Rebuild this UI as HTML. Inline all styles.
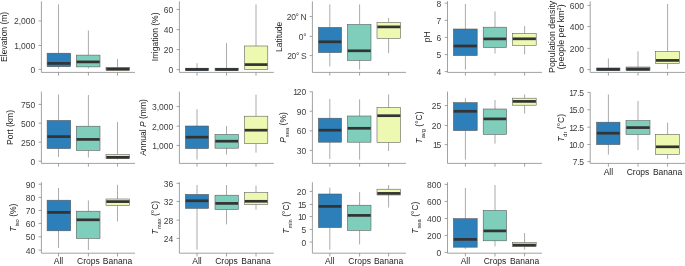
<!DOCTYPE html>
<html><head><meta charset="utf-8"><style>
html,body{margin:0;padding:0;background:#fff;}
svg{display:block;will-change:transform;}
text{font-family:"Liberation Sans",sans-serif;font-size:8.5px;fill:#242424;}
.sub{font-size:5.8px;}
.t{fill:#3c3c3c;}
.sup{font-size:5.6px;}
.a{stroke:#8a8a8a;stroke-width:0.8;fill:none;}
.w{stroke:#8f8f8f;stroke-width:0.75;}
.b{stroke:#555555;stroke-width:0.55;}
.m{stroke:#333333;stroke-width:2.7;}
</style></head><body>
<svg width="685" height="266" viewBox="0 0 685 266">
<line x1="58.5" y1="4.3" x2="58.5" y2="53.2" class="w"/>
<line x1="58.5" y1="66.7" x2="58.5" y2="68.5" class="w"/>
<rect x="47.1" y="53.2" width="23.6" height="13.5" fill="#2c7fb8" class="b"/>
<line x1="47.4" y1="63.4" x2="70.4" y2="63.4" class="m"/>
<line x1="88.4" y1="30.5" x2="88.4" y2="55.1" class="w"/>
<line x1="88.4" y1="66.9" x2="88.4" y2="68.5" class="w"/>
<rect x="76.3" y="55.1" width="23.7" height="11.8" fill="#7fcdbb" class="b"/>
<line x1="76.6" y1="61.9" x2="99.7" y2="61.9" class="m"/>
<line x1="117.5" y1="59" x2="117.5" y2="67.6" class="w"/>
<line x1="117.5" y1="70.4" x2="117.5" y2="70.6" class="w"/>
<rect x="106" y="67.6" width="23.7" height="2.8" fill="#edf8b1" class="b"/>
<line x1="106.3" y1="69" x2="129.4" y2="69" class="m"/>
<path d="M41.4 1.3V72.4H135" class="a"/>
<line x1="38.6" y1="20.9" x2="41.4" y2="20.9" class="a"/>
<text x="35.2" y="24.4" text-anchor="end" class="t">2,000</text>
<line x1="38.6" y1="45.5" x2="41.4" y2="45.5" class="a"/>
<text x="35.2" y="49" text-anchor="end" class="t">1<tspan dx="-0.4">,</tspan>000</text>
<line x1="38.6" y1="69.4" x2="41.4" y2="69.4" class="a"/>
<text x="35.2" y="72.9" text-anchor="end" class="t">0</text>
<line x1="58.5" y1="72.4" x2="58.5" y2="75.6" class="a"/>
<line x1="88.4" y1="72.4" x2="88.4" y2="75.6" class="a"/>
<line x1="117.5" y1="72.4" x2="117.5" y2="75.6" class="a"/>
<text transform="translate(6.6 36.85) rotate(-90)" text-anchor="middle">Elevation (m)</text>
<line x1="197" y1="63.2" x2="197" y2="68.2" class="w"/>
<line x1="197" y1="70.6" x2="197" y2="70.6" class="w"/>
<rect x="185.4" y="68.2" width="23.2" height="2.4" fill="#2c7fb8" class="b"/>
<line x1="185.7" y1="69.4" x2="208.3" y2="69.4" class="m"/>
<line x1="226.5" y1="43.2" x2="226.5" y2="68.2" class="w"/>
<line x1="226.5" y1="70.6" x2="226.5" y2="70.6" class="w"/>
<rect x="215" y="68.2" width="23.4" height="2.4" fill="#7fcdbb" class="b"/>
<line x1="215.3" y1="69.4" x2="238.1" y2="69.4" class="m"/>
<line x1="256" y1="4.4" x2="256" y2="46" class="w"/>
<line x1="256" y1="69.6" x2="256" y2="70" class="w"/>
<rect x="244.4" y="46" width="23.4" height="23.6" fill="#edf8b1" class="b"/>
<line x1="244.7" y1="64.6" x2="267.5" y2="64.6" class="m"/>
<path d="M179.4 1.3V72.4H273.8" class="a"/>
<line x1="176.6" y1="9.4" x2="179.4" y2="9.4" class="a"/>
<text x="173.2" y="12.9" text-anchor="end" class="t">60</text>
<line x1="176.6" y1="29.6" x2="179.4" y2="29.6" class="a"/>
<text x="173.2" y="33.1" text-anchor="end" class="t">40</text>
<line x1="176.6" y1="49.6" x2="179.4" y2="49.6" class="a"/>
<text x="173.2" y="53.1" text-anchor="end" class="t">20</text>
<line x1="176.6" y1="69.6" x2="179.4" y2="69.6" class="a"/>
<text x="173.2" y="73.1" text-anchor="end" class="t">0</text>
<line x1="197" y1="72.4" x2="197" y2="75.6" class="a"/>
<line x1="226.5" y1="72.4" x2="226.5" y2="75.6" class="a"/>
<line x1="256" y1="72.4" x2="256" y2="75.6" class="a"/>
<text transform="translate(157.5 36.85) rotate(-90)" text-anchor="middle">Irrigation (%)</text>
<line x1="329.8" y1="4.4" x2="329.8" y2="27.4" class="w"/>
<line x1="329.8" y1="52.6" x2="329.8" y2="66.4" class="w"/>
<rect x="318.4" y="27.4" width="23.2" height="25.2" fill="#2c7fb8" class="b"/>
<line x1="318.7" y1="41.8" x2="341.3" y2="41.8" class="m"/>
<line x1="359.6" y1="4.4" x2="359.6" y2="24.4" class="w"/>
<line x1="359.6" y1="60.4" x2="359.6" y2="69.6" class="w"/>
<rect x="347.4" y="24.4" width="23.6" height="36" fill="#7fcdbb" class="b"/>
<line x1="347.7" y1="50.8" x2="370.7" y2="50.8" class="m"/>
<line x1="388.6" y1="18" x2="388.6" y2="22.4" class="w"/>
<line x1="388.6" y1="38.4" x2="388.6" y2="53.2" class="w"/>
<rect x="377" y="22.4" width="23.6" height="16" fill="#edf8b1" class="b"/>
<line x1="377.3" y1="26.9" x2="400.3" y2="26.9" class="m"/>
<path d="M312.4 1.3V72.4H406" class="a"/>
<line x1="309.6" y1="16.6" x2="312.4" y2="16.6" class="a"/>
<text x="306.2" y="20.1" text-anchor="end" class="t" letter-spacing="-0.4">20° N</text>
<line x1="309.6" y1="36.4" x2="312.4" y2="36.4" class="a"/>
<text x="306.2" y="39.9" text-anchor="end" class="t" letter-spacing="-0.4">0°</text>
<line x1="309.6" y1="55.6" x2="312.4" y2="55.6" class="a"/>
<text x="306.2" y="59.1" text-anchor="end" class="t" letter-spacing="-0.4">20° S</text>
<line x1="329.8" y1="72.4" x2="329.8" y2="75.6" class="a"/>
<line x1="359.6" y1="72.4" x2="359.6" y2="75.6" class="a"/>
<line x1="388.6" y1="72.4" x2="388.6" y2="75.6" class="a"/>
<text transform="translate(282.3 36.85) rotate(-90)" text-anchor="middle">Latitude</text>
<line x1="465.4" y1="4" x2="465.4" y2="29" class="w"/>
<line x1="465.4" y1="55.6" x2="465.4" y2="69.6" class="w"/>
<rect x="453.4" y="29" width="23.8" height="26.6" fill="#2c7fb8" class="b"/>
<line x1="453.7" y1="46" x2="476.9" y2="46" class="m"/>
<line x1="495" y1="11.4" x2="495" y2="27.2" class="w"/>
<line x1="495" y1="47.6" x2="495" y2="53.6" class="w"/>
<rect x="483.2" y="27.2" width="23.4" height="20.4" fill="#7fcdbb" class="b"/>
<line x1="483.5" y1="38.9" x2="506.3" y2="38.9" class="m"/>
<line x1="524.6" y1="26" x2="524.6" y2="33.4" class="w"/>
<line x1="524.6" y1="45.5" x2="524.6" y2="54.4" class="w"/>
<rect x="512.4" y="33.4" width="23.8" height="12.1" fill="#edf8b1" class="b"/>
<line x1="512.7" y1="38.8" x2="535.9" y2="38.8" class="m"/>
<path d="M447.5 1.2V72.4H542" class="a"/>
<line x1="444.7" y1="3.2" x2="447.5" y2="3.2" class="a"/>
<text x="441.3" y="6.7" text-anchor="end" class="t">8</text>
<line x1="444.7" y1="20.4" x2="447.5" y2="20.4" class="a"/>
<text x="441.3" y="23.9" text-anchor="end" class="t">7</text>
<line x1="444.7" y1="37.4" x2="447.5" y2="37.4" class="a"/>
<text x="441.3" y="40.9" text-anchor="end" class="t">6</text>
<line x1="444.7" y1="54.6" x2="447.5" y2="54.6" class="a"/>
<text x="441.3" y="58.1" text-anchor="end" class="t">5</text>
<line x1="444.7" y1="71.6" x2="447.5" y2="71.6" class="a"/>
<text x="441.3" y="75.1" text-anchor="end" class="t">4</text>
<line x1="465.4" y1="72.4" x2="465.4" y2="75.6" class="a"/>
<line x1="495" y1="72.4" x2="495" y2="75.6" class="a"/>
<line x1="524.6" y1="72.4" x2="524.6" y2="75.6" class="a"/>
<text transform="translate(429.5 36.8) rotate(-90)" text-anchor="middle">pH</text>
<line x1="608.4" y1="58.4" x2="608.4" y2="68" class="w"/>
<line x1="608.4" y1="70.6" x2="608.4" y2="70.6" class="w"/>
<rect x="596.6" y="68" width="23.4" height="2.6" fill="#2c7fb8" class="b"/>
<line x1="596.9" y1="69.3" x2="619.7" y2="69.3" class="m"/>
<line x1="638" y1="51.4" x2="638" y2="67" class="w"/>
<line x1="638" y1="70.6" x2="638" y2="70.6" class="w"/>
<rect x="626" y="67" width="24" height="3.6" fill="#7fcdbb" class="b"/>
<line x1="626.3" y1="69.2" x2="649.7" y2="69.2" class="m"/>
<line x1="667.6" y1="4" x2="667.6" y2="51.6" class="w"/>
<line x1="667.6" y1="63.6" x2="667.6" y2="69" class="w"/>
<rect x="655.6" y="51.6" width="23.8" height="12" fill="#edf8b1" class="b"/>
<line x1="655.9" y1="60.4" x2="679.1" y2="60.4" class="m"/>
<path d="M590.2 1.3V72.4H685" class="a"/>
<line x1="587.4" y1="5.4" x2="590.2" y2="5.4" class="a"/>
<text x="584" y="8.9" text-anchor="end" class="t">600</text>
<line x1="587.4" y1="26.6" x2="590.2" y2="26.6" class="a"/>
<text x="584" y="30.1" text-anchor="end" class="t">400</text>
<line x1="587.4" y1="48.4" x2="590.2" y2="48.4" class="a"/>
<text x="584" y="51.9" text-anchor="end" class="t">200</text>
<line x1="587.4" y1="69.6" x2="590.2" y2="69.6" class="a"/>
<text x="584" y="73.1" text-anchor="end" class="t">0</text>
<line x1="608.4" y1="72.4" x2="608.4" y2="75.6" class="a"/>
<line x1="638" y1="72.4" x2="638" y2="75.6" class="a"/>
<line x1="667.6" y1="72.4" x2="667.6" y2="75.6" class="a"/>
<text transform="translate(554.6 36.85) rotate(-90)" text-anchor="middle" style="font-size:8.85px">Population density</text>
<text transform="translate(563.5 36.85) rotate(-90)" text-anchor="middle" style="font-size:8.85px">(people per km<tspan class="sup" dy="-3">2</tspan><tspan dy="3">)</tspan></text>
<line x1="58.5" y1="94.4" x2="58.5" y2="120.4" class="w"/>
<line x1="58.5" y1="148.6" x2="58.5" y2="157.1" class="w"/>
<rect x="47.1" y="120.4" width="23.6" height="28.2" fill="#2c7fb8" class="b"/>
<line x1="47.4" y1="136.6" x2="70.4" y2="136.6" class="m"/>
<line x1="88.4" y1="95" x2="88.4" y2="126.2" class="w"/>
<line x1="88.4" y1="150.4" x2="88.4" y2="157.6" class="w"/>
<rect x="76.3" y="126.2" width="23.7" height="24.2" fill="#7fcdbb" class="b"/>
<line x1="76.6" y1="139.4" x2="99.7" y2="139.4" class="m"/>
<line x1="117.5" y1="122" x2="117.5" y2="154.4" class="w"/>
<line x1="117.5" y1="158.7" x2="117.5" y2="159.4" class="w"/>
<rect x="106" y="154.4" width="23.7" height="4.3" fill="#edf8b1" class="b"/>
<line x1="106.3" y1="157.3" x2="129.4" y2="157.3" class="m"/>
<path d="M41.4 91.6V163.4H135" class="a"/>
<line x1="38.6" y1="104.4" x2="41.4" y2="104.4" class="a"/>
<text x="35.2" y="107.9" text-anchor="end" class="t">750</text>
<line x1="38.6" y1="123.2" x2="41.4" y2="123.2" class="a"/>
<text x="35.2" y="126.7" text-anchor="end" class="t">500</text>
<line x1="38.6" y1="142.2" x2="41.4" y2="142.2" class="a"/>
<text x="35.2" y="145.7" text-anchor="end" class="t">250</text>
<line x1="38.6" y1="161.2" x2="41.4" y2="161.2" class="a"/>
<text x="35.2" y="164.7" text-anchor="end" class="t">0</text>
<line x1="58.5" y1="163.4" x2="58.5" y2="166.6" class="a"/>
<line x1="88.4" y1="163.4" x2="88.4" y2="166.6" class="a"/>
<line x1="117.5" y1="163.4" x2="117.5" y2="166.6" class="a"/>
<text transform="translate(12.7 127.5) rotate(-90)" text-anchor="middle">Port (km)</text>
<line x1="197" y1="109.2" x2="197" y2="126" class="w"/>
<line x1="197" y1="148.6" x2="197" y2="159.6" class="w"/>
<rect x="185.4" y="126" width="23.2" height="22.6" fill="#2c7fb8" class="b"/>
<line x1="185.7" y1="137.2" x2="208.3" y2="137.2" class="m"/>
<line x1="226.5" y1="126" x2="226.5" y2="134.4" class="w"/>
<line x1="226.5" y1="148.2" x2="226.5" y2="154.6" class="w"/>
<rect x="215" y="134.4" width="23.4" height="13.8" fill="#7fcdbb" class="b"/>
<line x1="215.3" y1="141.2" x2="238.1" y2="141.2" class="m"/>
<line x1="256" y1="94.6" x2="256" y2="116.2" class="w"/>
<line x1="256" y1="143.6" x2="256" y2="152.6" class="w"/>
<rect x="244.4" y="116.2" width="23.4" height="27.4" fill="#edf8b1" class="b"/>
<line x1="244.7" y1="130.2" x2="267.5" y2="130.2" class="m"/>
<path d="M179.4 91.6V163.4H273.8" class="a"/>
<line x1="176.6" y1="106.6" x2="179.4" y2="106.6" class="a"/>
<text x="173.2" y="110.1" text-anchor="end" class="t">3,000</text>
<line x1="176.6" y1="126.2" x2="179.4" y2="126.2" class="a"/>
<text x="173.2" y="129.7" text-anchor="end" class="t">2,000</text>
<line x1="176.6" y1="145.4" x2="179.4" y2="145.4" class="a"/>
<text x="173.2" y="148.9" text-anchor="end" class="t">1<tspan dx="-0.4">,</tspan>000</text>
<line x1="197" y1="163.4" x2="197" y2="166.6" class="a"/>
<line x1="226.5" y1="163.4" x2="226.5" y2="166.6" class="a"/>
<line x1="256" y1="163.4" x2="256" y2="166.6" class="a"/>
<text transform="translate(146 127.5) rotate(-90)" text-anchor="middle">Annual <tspan font-style="italic">P</tspan> (mm)</text>
<line x1="329.8" y1="99" x2="329.8" y2="118.2" class="w"/>
<line x1="329.8" y1="142.2" x2="329.8" y2="159" class="w"/>
<rect x="318.4" y="118.2" width="23.2" height="24" fill="#2c7fb8" class="b"/>
<line x1="318.7" y1="130.2" x2="341.3" y2="130.2" class="m"/>
<line x1="359.6" y1="99.4" x2="359.6" y2="116" class="w"/>
<line x1="359.6" y1="142.2" x2="359.6" y2="159.6" class="w"/>
<rect x="347.4" y="116" width="23.6" height="26.2" fill="#7fcdbb" class="b"/>
<line x1="347.7" y1="128.3" x2="370.7" y2="128.3" class="m"/>
<line x1="388.6" y1="94.4" x2="388.6" y2="107.6" class="w"/>
<line x1="388.6" y1="142.4" x2="388.6" y2="151" class="w"/>
<rect x="377" y="107.6" width="23.6" height="34.8" fill="#edf8b1" class="b"/>
<line x1="377.3" y1="115.7" x2="400.3" y2="115.7" class="m"/>
<path d="M312.4 91.6V163.4H406" class="a"/>
<line x1="309.6" y1="91.8" x2="312.4" y2="91.8" class="a"/>
<text x="306.2" y="95.3" text-anchor="end" class="t">1<tspan dx="-1.2">2</tspan>0</text>
<line x1="309.6" y1="111.2" x2="312.4" y2="111.2" class="a"/>
<text x="306.2" y="114.7" text-anchor="end" class="t">90</text>
<line x1="309.6" y1="130.9" x2="312.4" y2="130.9" class="a"/>
<text x="306.2" y="134.4" text-anchor="end" class="t">60</text>
<line x1="309.6" y1="150.4" x2="312.4" y2="150.4" class="a"/>
<text x="306.2" y="153.9" text-anchor="end" class="t">30</text>
<line x1="329.8" y1="163.4" x2="329.8" y2="166.6" class="a"/>
<line x1="359.6" y1="163.4" x2="359.6" y2="166.6" class="a"/>
<line x1="388.6" y1="163.4" x2="388.6" y2="166.6" class="a"/>
<text transform="translate(285.6 127.5) rotate(-90)" text-anchor="middle"><tspan font-style="italic">P</tspan><tspan class="sub" dy="3.4">sea</tspan><tspan dy="-3.4"> (%)</tspan></text>
<line x1="465.4" y1="98.2" x2="465.4" y2="102.6" class="w"/>
<line x1="465.4" y1="130.6" x2="465.4" y2="159.6" class="w"/>
<rect x="453.4" y="102.6" width="23.8" height="28" fill="#2c7fb8" class="b"/>
<line x1="453.7" y1="111.3" x2="476.9" y2="111.3" class="m"/>
<line x1="495" y1="100" x2="495" y2="109" class="w"/>
<line x1="495" y1="134.4" x2="495" y2="143.6" class="w"/>
<rect x="483.2" y="109" width="23.4" height="25.4" fill="#7fcdbb" class="b"/>
<line x1="483.5" y1="118.9" x2="506.3" y2="118.9" class="m"/>
<line x1="524.6" y1="94.4" x2="524.6" y2="98.2" class="w"/>
<line x1="524.6" y1="105.2" x2="524.6" y2="113.6" class="w"/>
<rect x="512.4" y="98.2" width="23.8" height="7" fill="#edf8b1" class="b"/>
<line x1="512.7" y1="101.4" x2="535.9" y2="101.4" class="m"/>
<path d="M447.5 91.6V163.4H542" class="a"/>
<line x1="444.7" y1="105.6" x2="447.5" y2="105.6" class="a"/>
<text x="441.3" y="109.1" text-anchor="end" class="t">25</text>
<line x1="444.7" y1="125.4" x2="447.5" y2="125.4" class="a"/>
<text x="441.3" y="128.9" text-anchor="end" class="t">20</text>
<line x1="444.7" y1="144.6" x2="447.5" y2="144.6" class="a"/>
<text x="441.3" y="148.1" text-anchor="end" class="t">1<tspan dx="-1.2">5</tspan></text>
<line x1="465.4" y1="163.4" x2="465.4" y2="166.6" class="a"/>
<line x1="495" y1="163.4" x2="495" y2="166.6" class="a"/>
<line x1="524.6" y1="163.4" x2="524.6" y2="166.6" class="a"/>
<text transform="translate(421.9 127.5) rotate(-90)" text-anchor="middle"><tspan font-style="italic">T</tspan><tspan class="sub" dy="3.4">avg</tspan><tspan dy="-3.4"> (°C)</tspan></text>
<line x1="608.4" y1="94.4" x2="608.4" y2="122.2" class="w"/>
<line x1="608.4" y1="144.6" x2="608.4" y2="154.6" class="w"/>
<rect x="596.6" y="122.2" width="23.4" height="22.4" fill="#2c7fb8" class="b"/>
<line x1="596.9" y1="133.2" x2="619.7" y2="133.2" class="m"/>
<line x1="638" y1="101" x2="638" y2="120.6" class="w"/>
<line x1="638" y1="134.5" x2="638" y2="150" class="w"/>
<rect x="626" y="120.6" width="24" height="13.9" fill="#7fcdbb" class="b"/>
<line x1="626.3" y1="127.6" x2="649.7" y2="127.6" class="m"/>
<line x1="667.6" y1="122.6" x2="667.6" y2="134.3" class="w"/>
<line x1="667.6" y1="154.4" x2="667.6" y2="159" class="w"/>
<rect x="655.6" y="134.3" width="23.8" height="20.1" fill="#edf8b1" class="b"/>
<line x1="655.9" y1="146.8" x2="679.1" y2="146.8" class="m"/>
<path d="M590.2 92.4V163.4H685" class="a"/>
<line x1="587.4" y1="92.4" x2="590.2" y2="92.4" class="a"/>
<text x="584" y="95.9" text-anchor="end" class="t">1<tspan dx="-1.2">7</tspan>.<tspan dx="-0.7">5</tspan></text>
<line x1="587.4" y1="109.8" x2="590.2" y2="109.8" class="a"/>
<text x="584" y="113.3" text-anchor="end" class="t">1<tspan dx="-1.2">5</tspan>.<tspan dx="-0.7">0</tspan></text>
<line x1="587.4" y1="127.2" x2="590.2" y2="127.2" class="a"/>
<text x="584" y="130.7" text-anchor="end" class="t">1<tspan dx="-1.2">2</tspan>.<tspan dx="-0.7">5</tspan></text>
<line x1="587.4" y1="144.5" x2="590.2" y2="144.5" class="a"/>
<text x="584" y="148" text-anchor="end" class="t">1<tspan dx="-1.2">0</tspan>.<tspan dx="-0.7">0</tspan></text>
<line x1="587.4" y1="161.6" x2="590.2" y2="161.6" class="a"/>
<text x="584" y="165.1" text-anchor="end" class="t">7.<tspan dx="-0.7">5</tspan></text>
<line x1="608.4" y1="163.4" x2="608.4" y2="166.6" class="a"/>
<line x1="638" y1="163.4" x2="638" y2="166.6" class="a"/>
<line x1="667.6" y1="163.4" x2="667.6" y2="166.6" class="a"/>
<text x="608.4" y="174.6" text-anchor="middle">All</text>
<text x="638" y="174.6" text-anchor="middle">Crops</text>
<text x="667.6" y="174.6" text-anchor="middle">Banana</text>
<text transform="translate(563.7 127.9) rotate(-90)" text-anchor="middle"><tspan font-style="italic">T</tspan><tspan class="sub" dy="3.4">dr</tspan><tspan dy="-3.4"> (°C)</tspan></text>
<line x1="58.5" y1="188" x2="58.5" y2="200.2" class="w"/>
<line x1="58.5" y1="230.8" x2="58.5" y2="248" class="w"/>
<rect x="47.1" y="200.2" width="23.6" height="30.6" fill="#2c7fb8" class="b"/>
<line x1="47.4" y1="212.4" x2="70.4" y2="212.4" class="m"/>
<line x1="88.4" y1="200.4" x2="88.4" y2="211.2" class="w"/>
<line x1="88.4" y1="238.4" x2="88.4" y2="250" class="w"/>
<rect x="76.3" y="211.2" width="23.7" height="27.2" fill="#7fcdbb" class="b"/>
<line x1="76.6" y1="219.8" x2="99.7" y2="219.8" class="m"/>
<line x1="117.5" y1="184.8" x2="117.5" y2="199" class="w"/>
<line x1="117.5" y1="205.6" x2="117.5" y2="221.5" class="w"/>
<rect x="106" y="199" width="23.7" height="6.6" fill="#edf8b1" class="b"/>
<line x1="106.3" y1="201.6" x2="129.4" y2="201.6" class="m"/>
<path d="M41.4 182.2V253.2H135" class="a"/>
<line x1="38.6" y1="184.2" x2="41.4" y2="184.2" class="a"/>
<text x="35.2" y="187.7" text-anchor="end" class="t">90</text>
<line x1="38.6" y1="197.4" x2="41.4" y2="197.4" class="a"/>
<text x="35.2" y="200.9" text-anchor="end" class="t">80</text>
<line x1="38.6" y1="210.4" x2="41.4" y2="210.4" class="a"/>
<text x="35.2" y="213.9" text-anchor="end" class="t">70</text>
<line x1="38.6" y1="223.4" x2="41.4" y2="223.4" class="a"/>
<text x="35.2" y="226.9" text-anchor="end" class="t">60</text>
<line x1="38.6" y1="236.8" x2="41.4" y2="236.8" class="a"/>
<text x="35.2" y="240.3" text-anchor="end" class="t">50</text>
<line x1="38.6" y1="250.2" x2="41.4" y2="250.2" class="a"/>
<text x="35.2" y="253.7" text-anchor="end" class="t">40</text>
<line x1="58.5" y1="253.2" x2="58.5" y2="256.4" class="a"/>
<line x1="88.4" y1="253.2" x2="88.4" y2="256.4" class="a"/>
<line x1="117.5" y1="253.2" x2="117.5" y2="256.4" class="a"/>
<text x="58.5" y="264.4" text-anchor="middle">All</text>
<text x="88.4" y="264.4" text-anchor="middle">Crops</text>
<text x="117.5" y="264.4" text-anchor="middle">Banana</text>
<text transform="translate(15.8 217.7) rotate(-90)" text-anchor="middle"><tspan font-style="italic">T</tspan><tspan class="sub" dy="3.4">iso</tspan><tspan dy="-3.4"> (%)</tspan></text>
<line x1="197" y1="185" x2="197" y2="194.4" class="w"/>
<line x1="197" y1="208.4" x2="197" y2="249.6" class="w"/>
<rect x="185.4" y="194.4" width="23.2" height="14" fill="#2c7fb8" class="b"/>
<line x1="185.7" y1="200.8" x2="208.3" y2="200.8" class="m"/>
<line x1="226.5" y1="185" x2="226.5" y2="195.2" class="w"/>
<line x1="226.5" y1="209.6" x2="226.5" y2="224.4" class="w"/>
<rect x="215" y="195.2" width="23.4" height="14.4" fill="#7fcdbb" class="b"/>
<line x1="215.3" y1="203.4" x2="238.1" y2="203.4" class="m"/>
<line x1="256" y1="185.6" x2="256" y2="192.6" class="w"/>
<line x1="256" y1="204.6" x2="256" y2="209.6" class="w"/>
<rect x="244.4" y="192.6" width="23.4" height="12" fill="#edf8b1" class="b"/>
<line x1="244.7" y1="201.3" x2="267.5" y2="201.3" class="m"/>
<path d="M179.4 182.2V253.2H273.8" class="a"/>
<line x1="176.6" y1="183.4" x2="179.4" y2="183.4" class="a"/>
<text x="173.2" y="186.9" text-anchor="end" class="t">36</text>
<line x1="176.6" y1="201.4" x2="179.4" y2="201.4" class="a"/>
<text x="173.2" y="204.9" text-anchor="end" class="t">32</text>
<line x1="176.6" y1="220.2" x2="179.4" y2="220.2" class="a"/>
<text x="173.2" y="223.7" text-anchor="end" class="t">28</text>
<line x1="176.6" y1="238.4" x2="179.4" y2="238.4" class="a"/>
<text x="173.2" y="241.9" text-anchor="end" class="t">24</text>
<line x1="197" y1="253.2" x2="197" y2="256.4" class="a"/>
<line x1="226.5" y1="253.2" x2="226.5" y2="256.4" class="a"/>
<line x1="256" y1="253.2" x2="256" y2="256.4" class="a"/>
<text x="197" y="264.4" text-anchor="middle">All</text>
<text x="226.5" y="264.4" text-anchor="middle">Crops</text>
<text x="256" y="264.4" text-anchor="middle">Banana</text>
<text transform="translate(157.5 217.7) rotate(-90)" text-anchor="middle"><tspan font-style="italic">T</tspan><tspan class="sub" dy="3.4">max</tspan><tspan dy="-3.4"> (°C)</tspan></text>
<line x1="329.8" y1="187.6" x2="329.8" y2="194" class="w"/>
<line x1="329.8" y1="227.6" x2="329.8" y2="249.6" class="w"/>
<rect x="318.4" y="194" width="23.2" height="33.6" fill="#2c7fb8" class="b"/>
<line x1="318.7" y1="206.4" x2="341.3" y2="206.4" class="m"/>
<line x1="359.6" y1="192" x2="359.6" y2="205.2" class="w"/>
<line x1="359.6" y1="230.4" x2="359.6" y2="244.4" class="w"/>
<rect x="347.4" y="205.2" width="23.6" height="25.2" fill="#7fcdbb" class="b"/>
<line x1="347.7" y1="215.4" x2="370.7" y2="215.4" class="m"/>
<line x1="388.6" y1="185" x2="388.6" y2="189.2" class="w"/>
<line x1="388.6" y1="195" x2="388.6" y2="207.6" class="w"/>
<rect x="377" y="189.2" width="23.6" height="5.8" fill="#edf8b1" class="b"/>
<line x1="377.3" y1="193.4" x2="400.3" y2="193.4" class="m"/>
<path d="M312.4 182.2V253.2H406" class="a"/>
<line x1="309.6" y1="191.4" x2="312.4" y2="191.4" class="a"/>
<text x="306.2" y="194.9" text-anchor="end" class="t">20</text>
<line x1="309.6" y1="204.4" x2="312.4" y2="204.4" class="a"/>
<text x="306.2" y="207.9" text-anchor="end" class="t">1<tspan dx="-1.2">5</tspan></text>
<line x1="309.6" y1="216.6" x2="312.4" y2="216.6" class="a"/>
<text x="306.2" y="220.1" text-anchor="end" class="t">1<tspan dx="-1.2">0</tspan></text>
<line x1="309.6" y1="229.4" x2="312.4" y2="229.4" class="a"/>
<text x="306.2" y="232.9" text-anchor="end" class="t">5</text>
<line x1="309.6" y1="242" x2="312.4" y2="242" class="a"/>
<text x="306.2" y="245.5" text-anchor="end" class="t">0</text>
<line x1="329.8" y1="253.2" x2="329.8" y2="256.4" class="a"/>
<line x1="359.6" y1="253.2" x2="359.6" y2="256.4" class="a"/>
<line x1="388.6" y1="253.2" x2="388.6" y2="256.4" class="a"/>
<text x="329.8" y="264.4" text-anchor="middle">All</text>
<text x="359.6" y="264.4" text-anchor="middle">Crops</text>
<text x="388.6" y="264.4" text-anchor="middle">Banana</text>
<text transform="translate(288.5 217.7) rotate(-90)" text-anchor="middle"><tspan font-style="italic">T</tspan><tspan class="sub" dy="3.4">min</tspan><tspan dy="-3.4"> (°C)</tspan></text>
<line x1="465.4" y1="188" x2="465.4" y2="218.6" class="w"/>
<line x1="465.4" y1="247.2" x2="465.4" y2="249" class="w"/>
<rect x="453.4" y="218.6" width="23.8" height="28.6" fill="#2c7fb8" class="b"/>
<line x1="453.7" y1="239.4" x2="476.9" y2="239.4" class="m"/>
<line x1="495" y1="185" x2="495" y2="210.4" class="w"/>
<line x1="495" y1="240.8" x2="495" y2="246.4" class="w"/>
<rect x="483.2" y="210.4" width="23.4" height="30.4" fill="#7fcdbb" class="b"/>
<line x1="483.5" y1="230.9" x2="506.3" y2="230.9" class="m"/>
<line x1="524.6" y1="233" x2="524.6" y2="242.6" class="w"/>
<line x1="524.6" y1="246.4" x2="524.6" y2="249.6" class="w"/>
<rect x="512.4" y="242.6" width="23.8" height="3.8" fill="#edf8b1" class="b"/>
<line x1="512.7" y1="245.1" x2="535.9" y2="245.1" class="m"/>
<path d="M447.5 182.2V253.2H542" class="a"/>
<line x1="444.7" y1="184.4" x2="447.5" y2="184.4" class="a"/>
<text x="441.3" y="187.9" text-anchor="end" class="t">800</text>
<line x1="444.7" y1="201.4" x2="447.5" y2="201.4" class="a"/>
<text x="441.3" y="204.9" text-anchor="end" class="t">600</text>
<line x1="444.7" y1="218.5" x2="447.5" y2="218.5" class="a"/>
<text x="441.3" y="222" text-anchor="end" class="t">400</text>
<line x1="444.7" y1="235.4" x2="447.5" y2="235.4" class="a"/>
<text x="441.3" y="238.9" text-anchor="end" class="t">200</text>
<line x1="444.7" y1="252.4" x2="447.5" y2="252.4" class="a"/>
<text x="441.3" y="255.9" text-anchor="end" class="t">0</text>
<line x1="465.4" y1="253.2" x2="465.4" y2="256.4" class="a"/>
<line x1="495" y1="253.2" x2="495" y2="256.4" class="a"/>
<line x1="524.6" y1="253.2" x2="524.6" y2="256.4" class="a"/>
<text x="465.4" y="264.4" text-anchor="middle">All</text>
<text x="495" y="264.4" text-anchor="middle">Crops</text>
<text x="524.6" y="264.4" text-anchor="middle">Banana</text>
<text transform="translate(418 217.7) rotate(-90)" text-anchor="middle"><tspan font-style="italic">T</tspan><tspan class="sub" dy="3.4">sea</tspan><tspan dy="-3.4"> (°C)</tspan></text>
</svg>
</body></html>
